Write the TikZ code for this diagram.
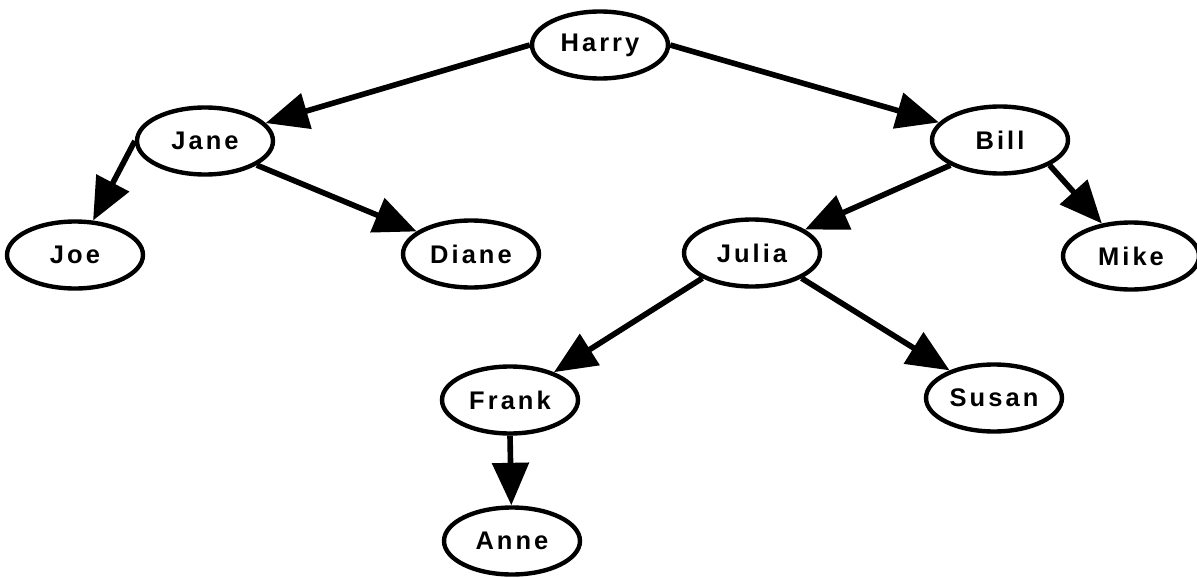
\documentclass[tikz,border=0pt]{standalone}
\usepackage{fontspec}
\newfontfamily\namefont[LetterSpace=12]{Liberation Sans}
\usetikzlibrary{arrows.meta, shapes.geometric}
\usetikzlibrary{positioning}

\begin{document}
\begin{tikzpicture}[x=0.02cm, y=-0.02cm,
		person/.style={draw, ellipse, line width=2.5pt, minimum width=2.72cm, minimum height=1.34cm, inner sep=0pt, font=\namefont\bfseries\fontsize{14.5}{16}\selectfont},
		link/.style={line width=3.2pt, -{Triangle[length=0.85cm, width=0.72cm]}}]
		\useasboundingbox (0,0) rectangle (1197,578);
		
		% people
		\node[person] (harry) at (600,45) {Harry};
		\node[person] (jane) at (205,141) {Jane};
		\node[person] (bill) at (1000,140) {Bill};
		\node[person] (joe) at (75,255) {Joe};
		\node[person] (diane) at (471,254) {Diane};
		\node[person] (julia) at (752,253) {Julia};
		\node[person] (mike) at (1131,256) {Mike};
		\node[person] (frank) at (510,400) {Frank};
		\node[person] (susan) at (994,398) {Susan};
		\node[person] (anne) at (512,541) {Anne};
		
		% links
		\draw[link] (harry.west) -- (jane);
		\draw[link] (harry.east) -- (bill);
		\draw[link] (jane.west) -- (joe);
		\draw[link] (jane.-25) -- (diane);
		\draw[link] (bill.south west) -- (julia);
		\draw[link] (bill.south east) -- (mike);
		\draw[link] (julia.south west) -- (frank);
		\draw[link] (julia.south east) -- (susan);
		\draw[link] (frank.south) -- (anne);
	\end{tikzpicture}
\end{document}
